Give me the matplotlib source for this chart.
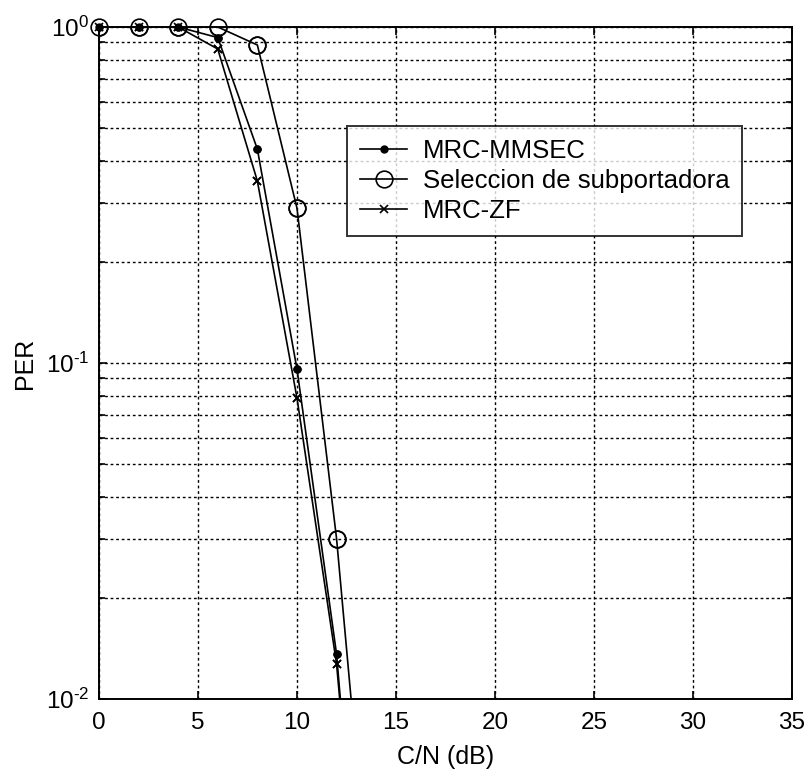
import numpy as np
import matplotlib
matplotlib.use("Agg")
import matplotlib.pyplot as plt
from matplotlib.ticker import LogLocator, NullFormatter, FuncFormatter

# C/N (dB) and packet error rate
cn_db = [0, 2, 4, 6, 8, 10, 12, 14]
per_mmsec = [1.0, 1.0, 1.0, 0.93, 0.433, 0.096, 0.0136, 5.4e-4]
per_sel = [1.0, 1.0, 1.0, 1.0, 0.884, 0.289, 0.030, 1.5e-3]
per_zf = [1.0, 1.0, 1.0, 0.86, 0.348, 0.0787, 0.0127, 6.3e-4]

series_names = ["MRC-MMSEC", "Seleccion de subportadora", "MRC-ZF"]
x_ticks = [0, 5, 10, 15, 20, 25, 30, 35]

plt.rcParams["font.family"] = ["Liberation Sans", "DejaVu Sans"]
plt.rcParams["mathtext.fontset"] = "custom"
plt.rcParams["mathtext.rm"] = "Liberation Sans"
plt.rcParams["mathtext.it"] = "Liberation Sans"


def pow10_label(v, pos):
    e = int(round(np.log10(v)))
    if e < 0:
        return r"$\mathdefault{10^{\text{-}%d}}$" % (-e)
    return r"$\mathdefault{10^{%d}}$" % e


fig = plt.figure(figsize=(8.11, 7.78), dpi=100)
ax = fig.add_axes([0.122, 0.1015, 0.8546, 0.8638])

styles = [
    dict(marker="o", ms=5, mfc="black", mec="black"),
    dict(marker="o", ms=12, mfc="none", mec="black", mew=1.2),
    dict(marker="x", ms=6, mec="black", mew=1.2),
]
x = np.array(cn_db)
for ys, name, st in zip([per_mmsec, per_sel, per_zf], series_names, styles):
    y = np.array(ys)
    ax.plot(x, y, color="black", lw=1.2, label=name, **st)
    # markers on the top edge are not clipped in the original
    m = y >= 1e-2
    ax.plot(x[m], y[m], ls="none", clip_on=False, zorder=5, **st)

ax.set_yscale("log")
ax.set_xlim(0, 35)
ax.set_ylim(1e-2, 1)
ax.set_xticks(x_ticks)
ax.yaxis.set_major_locator(LogLocator(base=10, numticks=5))
ax.yaxis.set_major_formatter(FuncFormatter(pow10_label))
ax.yaxis.set_minor_locator(LogLocator(base=10, subs=np.arange(2, 10), numticks=20))
ax.yaxis.set_minor_formatter(NullFormatter())

ax.grid(True, which="major", color="black", lw=1.0, ls=(0, (2, 2)))
ax.grid(True, which="minor", axis="y", color="black", lw=1.0, ls=(0, (2, 2)))

ax.tick_params(which="both", direction="in", top=True, right=True,
               labelsize=17.5, width=1.2, color="black")
ax.tick_params(which="major", length=6)
ax.tick_params(axis="x", which="major", pad=9)
ax.tick_params(axis="y", which="major", pad=7)
ax.tick_params(which="minor", length=4)
for s in ax.spines.values():
    s.set_linewidth(1.4)

ax.set_xlabel("C/N (dB)", fontsize=18, labelpad=8)
ax.set_ylabel("PER", fontsize=18, labelpad=6)

leg = ax.legend(loc="upper left", bbox_to_anchor=(0.358, 0.853), borderaxespad=0,
                fontsize=18.5, frameon=True, fancybox=False, edgecolor="black",
                handlelength=1.85, handletextpad=0.6, labelspacing=0.25,
                borderpad=0.5)
leg.get_frame().set_linewidth(1.4)

fig.savefig("out.png", dpi=100, facecolor="white")
plt.close(fig)
